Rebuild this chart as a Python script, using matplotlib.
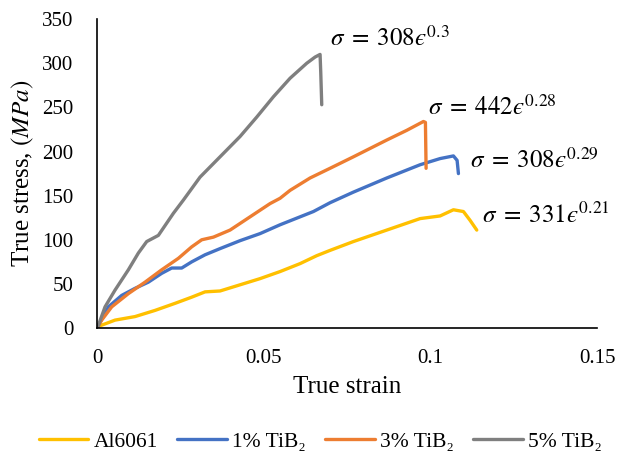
import matplotlib.pyplot as plt

plt.rcParams['font.family'] = 'Liberation Serif'
plt.rcParams['mathtext.fontset'] = 'stix'

# strain / stress readings for each composition
al_x = [0, 0.0005, 0.0054, 0.0114, 0.0174, 0.0234, 0.0284, 0.0324, 0.0369, 0.0429, 0.0489,
        0.0549, 0.0609, 0.0659, 0.0699, 0.0769, 0.0869, 0.0969, 0.1029, 0.1069, 0.1099,
        0.1119, 0.1139]
al_y = [0, 2, 9, 13, 20, 28, 35, 41, 42, 49, 56, 64, 73, 82, 88, 98, 111, 124, 127, 134,
        132, 122, 111]

ti1_x = [0, 0.0034, 0.0074, 0.0114, 0.0154, 0.0194, 0.0224, 0.0254, 0.0284, 0.0324, 0.0369,
         0.0429, 0.0489, 0.0549, 0.0609, 0.0649, 0.0699, 0.0769, 0.0869, 0.0969, 0.1029,
         0.1069, 0.108, 0.1084]
ti1_y = [0, 24, 37, 45, 52, 62, 68, 68, 75, 83, 90, 99, 107, 117, 126, 132, 142, 154, 170,
         185, 192, 195, 190, 175]

ti3_x = [0, 0.0014, 0.0044, 0.0094, 0.0144, 0.0194, 0.0244, 0.0284, 0.0314, 0.0349, 0.0399,
         0.0459, 0.0519, 0.0549, 0.0579, 0.0639, 0.0699, 0.0769, 0.0869, 0.0929, 0.0979,
         0.0985, 0.0987]
ti3_y = [0, 9, 24, 39, 52, 66, 79, 92, 100, 103, 111, 126, 141, 147, 156, 170, 181, 194,
         213, 224, 234, 233, 181]

ti5_x = [0, 0.0004, 0.0024, 0.0054, 0.0094, 0.0124, 0.0149, 0.0169, 0.0184, 0.0229, 0.0259,
         0.0309, 0.0369, 0.0429, 0.0479, 0.0529, 0.0579, 0.0629, 0.0654, 0.0669, 0.0671,
         0.0674]
ti5_y = [0, 3, 24, 43, 66, 85, 98, 102, 105, 130, 145, 171, 194, 217, 239, 262, 283, 300,
         307, 310, 290, 253]

series = [
    (al_x, al_y, 'Al6061', '#FFC000'),
    (ti1_x, ti1_y, '1% TiB₂', '#4472C4'),
    (ti3_x, ti3_y, '3% TiB₂', '#ED7D31'),
    (ti5_x, ti5_y, '5% TiB₂', '#7F7F7F'),
]

fits = [
    (0.0699, 320, r'$\sigma\;=\;308ϵ^{0.3}$'),
    (0.0993, 241, r'$\sigma\;=\;442ϵ^{0.28}$'),
    (0.1119, 181, r'$\sigma\;=\;308ϵ^{0.29}$'),
    (0.1155, 119, r'$\sigma\;=\;331ϵ^{0.21}$'),
]

fig = plt.figure(figsize=(6.22, 4.55), dpi=100)
ax = fig.add_axes([0.156, 0.279, 0.804, 0.679])

for x, y, name, c in series:
    ax.plot(x, y, color=c, lw=2.4, label=name, solid_capstyle='round',
            solid_joinstyle='round')

for x, y, s in fits:
    ax.text(x, y, s, fontsize=18, va='baseline', ha='left')

ax.set_xlim(0, 0.15)
ax.set_ylim(0, 350)
ax.set_xticks([0, 0.05, 0.1, 0.15])
ax.set_xticklabels(['0', '0.05', '0.1', '0.15'])
ax.set_yticks(range(0, 351, 50))
ax.tick_params(length=0, labelsize=15)
ax.tick_params(axis='y', pad=17)
ax.tick_params(axis='x', pad=15)
ax.spines['top'].set_visible(False)
ax.spines['right'].set_visible(False)
ax.spines['left'].set_linewidth(1.2)
ax.spines['bottom'].set_linewidth(1.2)

ax.set_xlabel('True strain', fontsize=18, labelpad=6)
ax.set_ylabel('True stress, $(MPa)$', fontsize=18, labelpad=4)

fig.legend(loc='lower center', ncol=4, frameon=False, fontsize=15.5,
           bbox_to_anchor=(0.515, -0.035), handlelength=2.3, columnspacing=0.9,
           handletextpad=0.25)

fig.savefig('out.png', dpi=100)
